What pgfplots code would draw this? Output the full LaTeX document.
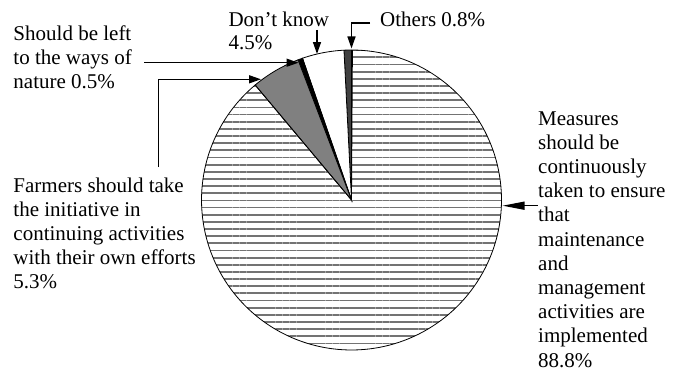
\documentclass[border=0pt]{standalone}
\usepackage{pgfplots}
\pgfplotsset{compat=1.18}
\usepackage{pgfplotstable}
\usepackage{fontspec}
\setmainfont{Liberation Serif}
\usetikzlibrary{arrows.meta,patterns.meta}

% shares in percent (counter-clockwise from 12 o'clock)
\def\pOthers{0.8}
\def\pDont{4.5}
\def\pNature{0.5}
\def\pFarmers{5.3}
\def\pMeasures{88.8}
\def\cx{351.5}
\def\cy{172}
\def\R{150}

\begin{document}
\begin{tikzpicture}[x=1bp,y=1bp]
\begin{axis}[
  width=678bp, height=372bp, scale only axis,
  xmin=0, xmax=678, ymin=0, ymax=372,
  hide axis, clip=false,
]
% Others
\addplot[draw=black, line width=0.8bp, fill=black!75, domain={90}:{90+3.6*\pOthers}, samples=5, variable=\t]
  ({\cx+\R*cos(\t)},{\cy+\R*sin(\t)}) -- (axis cs:\cx,\cy) -- cycle;
% Don't know
\addplot[draw=black, line width=0.8bp, fill=white, domain={90+3.6*\pOthers}:{90+3.6*(\pOthers+\pDont)}, samples=12, variable=\t]
  ({\cx+\R*cos(\t)},{\cy+\R*sin(\t)}) -- (axis cs:\cx,\cy) -- cycle;
% Nature
\addplot[draw=black, line width=0.8bp, fill=black, domain={90+3.6*(\pOthers+\pDont)}:{90+3.6*(\pOthers+\pDont+\pNature)}, samples=3, variable=\t]
  ({\cx+\R*cos(\t)},{\cy+\R*sin(\t)}) -- (axis cs:\cx,\cy) -- cycle;
% Farmers
\addplot[draw=black, line width=0.8bp, fill=black!50, domain={90+3.6*(\pOthers+\pDont+\pNature)}:{90+3.6*(\pOthers+\pDont+\pNature+\pFarmers)}, samples=12, variable=\t]
  ({\cx+\R*cos(\t)},{\cy+\R*sin(\t)}) -- (axis cs:\cx,\cy) -- cycle;
% Measures
\addplot[draw=black, line width=0.8bp, pattern={Lines[angle=0,distance=7.15bp,line width=1.8bp]}, pattern color=black!55,
  domain={90+3.6*(\pOthers+\pDont+\pNature+\pFarmers)}:{90+3.6*(\pOthers+\pDont+\pNature+\pFarmers+\pMeasures)}, samples=160, variable=\t]
  ({\cx+\R*cos(\t)},{\cy+\R*sin(\t)}) -- (axis cs:\cx,\cy) -- cycle;
\end{axis}

\tikzset{arr/.style={line width=1.4bp, -{Triangle[length=12bp,width=8bp]}}}
% arrows
\draw[arr] (370,349) -- (351.5,349) -- (351.5,323.5);
\draw[arr] (317,342) -- (317,318);
\draw[arr] (144,309.3) -- (298.5,309.3);
\draw[arr] (158.3,205) -- (158.3,292.7) -- (261,292.7);
\draw[line width=1.4bp, -{Triangle[length=22bp,width=8bp]}] (537.7,166.3) -- (502.5,166.3);

% texts
\fontsize{21bp}{24bp}\selectfont
\tikzset{lbl/.style={anchor=base west, inner sep=0pt}}
\node[lbl] at (228.3,346) {Don’t know};
\node[lbl] at (228.3,322.5) {4.5\%};
\node[lbl] at (380,345.5) {Others 0.8\%};
\node[lbl] at (13.3,331.5) {Should be left};
\node[lbl] at (13.3,307.5) {to the ways of};
\node[lbl] at (13.3,283.5) {nature 0.5\%};
\node[lbl] at (13.3,179.5) {Farmers should take};
\node[lbl] at (13.3,155.5) {the initiative in};
\node[lbl] at (13.3,131.5) {continuing activities};
\node[lbl] at (13.3,107.5) {with their own efforts};
\node[lbl] at (13.3,83.5) {5.3\%};
\node[lbl] at (538,247) {Measures};
\node[lbl] at (538,222.8) {should be};
\node[lbl] at (538,198.6) {continuously};
\node[lbl] at (538,174.4) {taken to ensure};
\node[lbl] at (538,150.2) {that};
\node[lbl] at (538,126) {maintenance};
\node[lbl] at (538,101.8) {and};
\node[lbl] at (538,77.6) {management};
\node[lbl] at (538,53.4) {activities are};
\node[lbl] at (538,29.2) {implemented};
\node[lbl] at (538,5) {88.8\%};

\pgfresetboundingbox
\path (0,0) rectangle (678,372);
\end{tikzpicture}
\end{document}
